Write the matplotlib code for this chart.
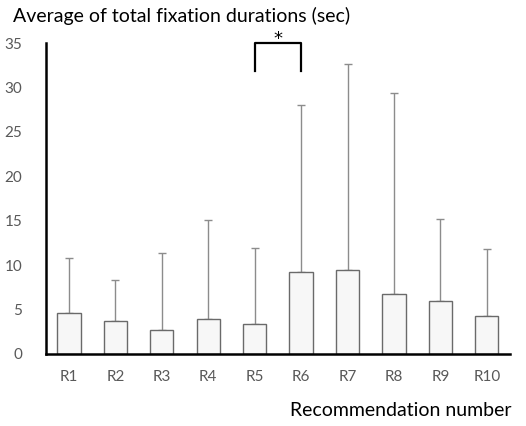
import matplotlib.pyplot as plt
import numpy as np

# recommendation labels and mean / SD of total fixation durations (sec)
labels = ['R1', 'R2', 'R3', 'R4', 'R5', 'R6', 'R7', 'R8', 'R9', 'R10']
means = [4.63, 3.73, 2.64, 3.92, 3.32, 9.19, 9.42, 6.78, 5.91, 4.29]
upper = [10.77, 8.28, 11.37, 15.1, 11.9, 28.04, 32.67, 29.35, 15.24, 11.78]
sd = [u - m for u, m in zip(upper, means)]

plt.rcParams['font.family'] = ['Lato', 'DejaVu Sans']

fig = plt.figure(figsize=(5.26, 4.26), dpi=100)
ax = fig.add_axes([0.0869, 0.1697, 0.8827, 0.7287])

x = np.arange(len(labels))
ax.bar(x, means, width=0.5, color='#f7f7f7', edgecolor='#6a6a6a', linewidth=1.0, zorder=2)
ax.errorbar(x, means, yerr=[np.zeros(len(sd)), sd], fmt='none', ecolor='#8c8c8c',
            elinewidth=1.0, capsize=3, capthick=1.0, zorder=1)

ax.set_xlim(-0.5, len(labels) - 0.5)
ax.set_ylim(0, 35)
ax.set_yticks(range(0, 36, 5))
ax.set_xticks(x)
ax.set_xticklabels(labels)
ax.tick_params(length=0, colors='#595959', labelsize=11, pad=12)
ax.tick_params(axis='y', pad=17)

for s in ['top', 'right']:
    ax.spines[s].set_visible(False)
ax.spines['left'].set_linewidth(1.8)
ax.spines['bottom'].set_linewidth(1.8)

# significance bracket between R5 and R6
ax.plot([4, 4, 5, 5], [31.9, 35, 35, 31.9], color='black', linewidth=1.6, clip_on=False)
ax.text(4.5, 34.9, '*', ha='center', va='baseline', fontsize=13, color='black',
        family='DejaVu Sans')

fig.text(0.025, 0.963, 'Average of total fixation durations (sec)', ha='left', va='center',
         fontsize=14, color='black')
fig.text(0.973, 0.037, 'Recommendation number', ha='right', va='center',
         fontsize=14, color='black')

fig.savefig('out.png', dpi=100)
